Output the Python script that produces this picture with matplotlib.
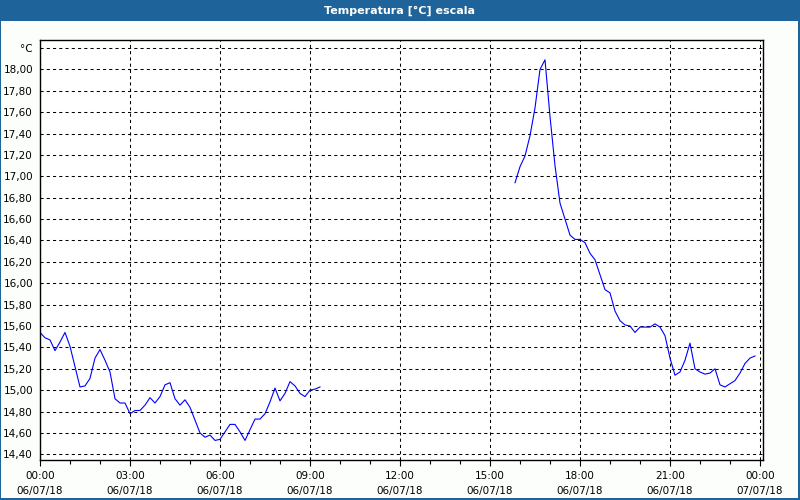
import matplotlib.pyplot as plt
import matplotlib.patches as patches
import numpy as np

# readings every 10 minutes, hours since 06/07/18 00:00
step_h = 10 / 60.0
start_a = 0.0
temp_a = [15.54, 15.49, 15.47, 15.37, 15.45, 15.54, 15.41, 15.22, 15.03, 15.04,
          15.11, 15.30, 15.38, 15.28, 15.17, 14.92, 14.88, 14.88, 14.78, 14.81,
          14.81, 14.86, 14.93, 14.88, 14.94, 15.05, 15.07, 14.92, 14.86, 14.91,
          14.84, 14.72, 14.60, 14.56, 14.58, 14.53, 14.54, 14.61, 14.68, 14.68,
          14.61, 14.53, 14.63, 14.73, 14.73, 14.78, 14.89, 15.02, 14.90, 14.97,
          15.08, 15.04, 14.97, 14.94, 15.00, 15.01, 15.03]
start_b = 15.0 + 50 / 60.0
temp_b = [16.94, 17.09, 17.19, 17.38, 17.64, 18.00, 18.09, 17.56, 17.10, 16.75,
          16.60, 16.45, 16.41, 16.41, 16.38, 16.28, 16.22, 16.08, 15.94, 15.91,
          15.74, 15.65, 15.61, 15.60, 15.54, 15.59, 15.59, 15.59, 15.62, 15.59,
          15.51, 15.30, 15.14, 15.17, 15.28, 15.44, 15.20, 15.17, 15.15, 15.16,
          15.20, 15.05, 15.03, 15.06, 15.09, 15.16, 15.25, 15.30, 15.32]

x_ticks = [0, 3, 6, 9, 12, 15, 18, 21, 24]
x_labels = ['00:00\n06/07/18', '03:00\n06/07/18', '06:00\n06/07/18', '09:00\n06/07/18',
            '12:00\n06/07/18', '15:00\n06/07/18', '18:00\n06/07/18', '21:00\n06/07/18',
            '00:00\n07/07/18']
y_ticks = [14.4, 14.6, 14.8, 15.0, 15.2, 15.4, 15.6, 15.8, 16.0, 16.2, 16.4, 16.6,
           16.8, 17.0, 17.2, 17.4, 17.6, 17.8, 18.0, 18.2]
y_labels = ['%.2f' % v for v in y_ticks[:-1]]
y_labels = [s.replace('.', ',') for s in y_labels] + ['°C']

frame = '#1e6399'
fig = plt.figure(figsize=(8, 5), dpi=100, facecolor='#fcfefc')
fig.patches.append(patches.Rectangle((0, 1 - 21 / 500), 1, 21 / 500, transform=fig.transFigure,
                                     facecolor=frame, edgecolor='none'))
fig.patches.append(patches.Rectangle((0, 0), 1 / 800, 1, transform=fig.transFigure,
                                     facecolor=frame, edgecolor='none'))
fig.patches.append(patches.Rectangle((1 - 2 / 800, 0), 2 / 800, 1, transform=fig.transFigure,
                                     facecolor=frame, edgecolor='none'))
fig.patches.append(patches.Rectangle((0, 0), 1, 2 / 500, transform=fig.transFigure,
                                     facecolor=frame, edgecolor='none'))
fig.text(0.5, 1 - 10.5 / 500, 'Temperatura [°C] escala', color='white', fontsize=8,
         fontweight='bold', ha='center', va='center')

ax = fig.add_axes([40 / 800, 40 / 500, 723 / 800, 420 / 500])
ax.set_facecolor('white')

xa = start_a + step_h * np.arange(len(temp_a))
xb = start_b + step_h * np.arange(len(temp_b))
ax.plot(xa, temp_a, color='#0000ff', lw=0.8)
ax.plot(xb, temp_b, color='#0000ff', lw=0.8)

ax.set_xlim(0, 24.1)
ax.set_ylim(14.347, 18.275)
ax.set_xticks(x_ticks)
ax.set_xticklabels(x_labels, fontsize=7.5, linespacing=1.6)
ax.set_xticks(np.arange(1, 24), minor=True)
ax.set_yticks(y_ticks)
ax.set_yticklabels(y_labels, fontsize=7.5)
ax.tick_params(axis='x', which='major', length=4, width=0.8, pad=4)
ax.tick_params(axis='x', which='minor', length=3, width=0.8)
ax.tick_params(axis='y', length=0, pad=5)
ax.grid(True, which='major', color='black', linestyle=(0, (3, 3)), linewidth=0.75)
for s in ax.spines.values():
    s.set_linewidth(1.0)
    s.set_color('black')

fig.savefig('out.png', dpi=100, facecolor=fig.get_facecolor())
